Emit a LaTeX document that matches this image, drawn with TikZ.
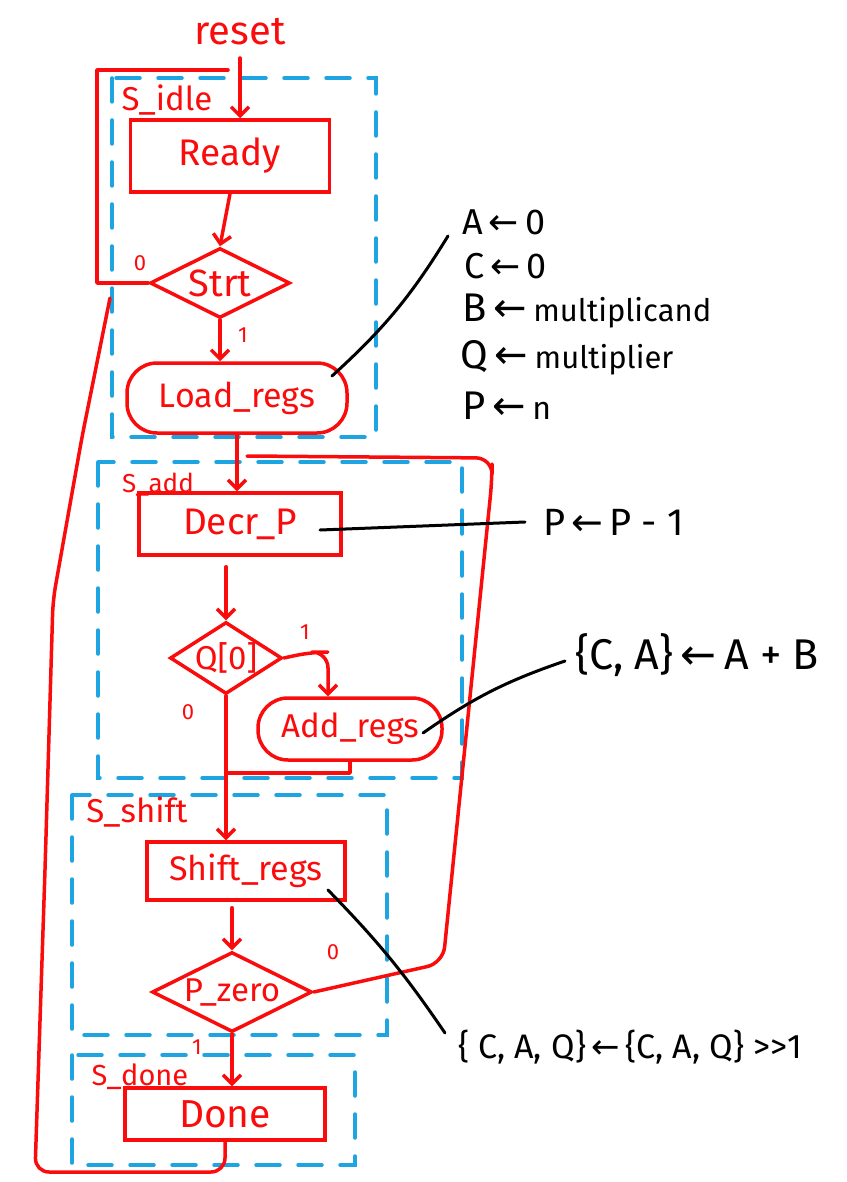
\documentclass[tikz,border=0pt]{standalone}
\usepackage{fontspec}
\setmainfont{Fira Sans}
\newfontfamily\arrfont{DejaVu Sans}
\usetikzlibrary{shapes.geometric,arrows.meta,calc}
\definecolor{hred}{RGB}{250,12,12}
\definecolor{hblue}{RGB}{30,165,225}
\newcommand{\la}{\,{\arrfont ←}\,}
\newcommand{\fs}[1]{\fontsize{#1}{#1}\selectfont}
\begin{document}
\begin{tikzpicture}[x=1pt,y=-1pt,
  redl/.style={draw=hred,line width=3.5pt,line cap=round,line join=round},
  flow/.style={redl,-{Straight Barb[length=9pt,width=18pt]}},
  blued/.style={draw=hblue,line width=3.5pt,dash pattern=on 24pt off 18pt,line cap=round},
  blk/.style={draw=black,line width=3pt,line cap=round},
  statebox/.style={rectangle,draw=hred,line width=3.5pt,text=hred,font=\fs{33},inner sep=0pt},
  condbox/.style={rectangle,rounded corners=30pt,draw=hred,line width=3.5pt,text=hred,font=\fs{33},inner sep=0pt},
  dia/.style={diamond,draw=hred,line width=3.5pt,inner sep=0pt},
  rlabel/.style={text=hred,font=\fs{33},inner sep=0pt},
  slabel/.style={text=hred,font=\fs{30},inner sep=0pt},
  small/.style={text=hred,font=\fs{22},inner sep=0pt},
  ktext/.style={text=black,font=\fs{40},inner sep=0pt,anchor=west}
]
\useasboundingbox (0,0) rectangle (846,1182);

% dashed state regions
\draw[blued] (112,78) rectangle (376,437);
\draw[blued] (98,462) rectangle (462,778);
\draw[blued] (72,795) rectangle (387,1035);
\draw[blued] (72,1055) rectangle (355,1165);

% state names
\node[slabel, font=\fs{33}] (lidle) at (167,100) {S\_idle};
\node[slabel, font=\fs{26}] (ladd) at (158,485) {S\_add};
\node[slabel, font=\fs{33}] (lshift) at (137,812) {S\_shift};
\node[slabel, font=\fs{29}] (ldone) at (140,1077) {S\_done};

% boxes
\node[rlabel, font=\fs{40}] (reset) at (240,32) {reset};
\node[statebox, font=\fs{37}, minimum width=199pt, minimum height=72pt] (ready) at (230,156) {Ready};
\node[dia, minimum width=140pt, minimum height=70pt] (start) at (220,283) {};
\node[rlabel, font=\fs{38}] (tstart) at (start) {Strt};
\node[condbox, font=\fs{34}, minimum width=220pt, minimum height=70pt] (load) at (237,398) {Load\_regs};
\node[statebox, font=\fs{37}, minimum width=202pt, minimum height=62pt] (decr) at (240,524) {Decr\_P};
\node[dia, minimum width=112pt, minimum height=72pt] (q0) at (226,658) {};
\node[rlabel] (tq0) at (q0) {Q[0]};
\node[condbox, minimum width=184pt, minimum height=62pt] (addr) at (350,729) {Add\_regs};
\node[statebox, font=\fs{34}, minimum width=198pt, minimum height=58pt] (shiftr) at (246,871) {Shift\_regs};
\node[dia, minimum width=160pt, minimum height=80pt] (pz) at (232,992) {};
\node[rlabel] (tpz) at (pz) {P\_zero};
\node[statebox, font=\fs{39}, minimum width=200pt, minimum height=52pt] (done) at (225,1114) {Done};

% branch values
\node[small] (v1) at (140,263) {0};
\node[small] (v2) at (243,335) {1};
\node[small] (v3) at (305,632) {1};
\node[small] (v4) at (188,712) {0};
\node[small] (v5) at (333,952) {0};
\node[small] (v6) at (197,1047) {1};

% coordinates for free ends
\coordinate (rs) at (240,58);
\coordinate (idleback) at (228,70);
\coordinate (join) at (226,773);
\coordinate (addback) at (247,456);
\coordinate (doneback) at (110,298);
\coordinate (bl) at (35,1172);

% connectors
\draw[flow] (rs) -- (rs |- ready.north);
\draw[flow] (ready.south) -- (start.north);
\draw[redl] (start.west) -- (97,283) -- (97,70) -- (idleback);
\draw[flow] (start.south) -- (start.south |- load.north);
\draw[flow] (load.south) -- (load.south |- decr.north);
\draw[flow, shorten <=10pt] (q0.north |- decr.south) -- (q0.north);
\draw[flow, rounded corners=16pt] (q0.east) -- ($(q0.east)+(28,-6)$) -| ($(addr.north)+(-22,0)$);
\draw[flow] (q0.south) -- (q0.south |- shiftr.north);
\draw[redl] (addr.south) |- (join);
\draw[flow, shorten <=6pt] (pz.north |- shiftr.south) -- (pz.north);
\draw[redl, rounded corners=16pt] (pz.east) -- (443,963) -- (492,480) -- (492,458) -- (addback);
\draw[flow] (pz.south) -- (pz.south |- done.north);
\draw[redl, rounded corners=14pt] (done.south) |- (bl) -- (45,870) -- (53,600) -- (82,437) -- (doneback);

% register transfer annotations
\node[ktext, font=\fs{36}] (a1) at (462,222) {A\la 0};
\node[ktext, font=\fs{36}] (a2) at (464,266) {C\la 0};
\node[ktext] (a3) at (462,311) {B\la {\fs{31}multiplicand}};
\node[ktext] (a4) at (460,358) {Q\la {\fs{31}multiplier}};
\node[ktext] (a5) at (462,406) {P\la {\fs{32}n}};
\node[ktext, font=\fs{38}] (p1) at (543,522) {P\la P - 1};
\node[ktext, font=\fs{43}] (ca) at (575,655) {\{C, A\}\la A + B};
\node[ktext, font=\fs{34}] (caq) at (458,1047) {\{ C, A, Q\}\la \{C, A, Q\} >{}>1};

\draw[blk] ($(load.center)+(95,-22)$) to[bend right=8] ($(a1.west)+(-14,14)$);
\draw[blk] ($(decr.center)+(80,6)$) -- ($(p1.west)+(-18,0)$);
\draw[blk] ($(addr.center)+(73,4)$) to[bend left=8] ($(ca.west)+(-10,6)$);
\draw[blk] ($(shiftr.center)+(82,19)$) to[bend left=5] ($(caq.west)+(-13,-14)$);
\end{tikzpicture}
\end{document}
